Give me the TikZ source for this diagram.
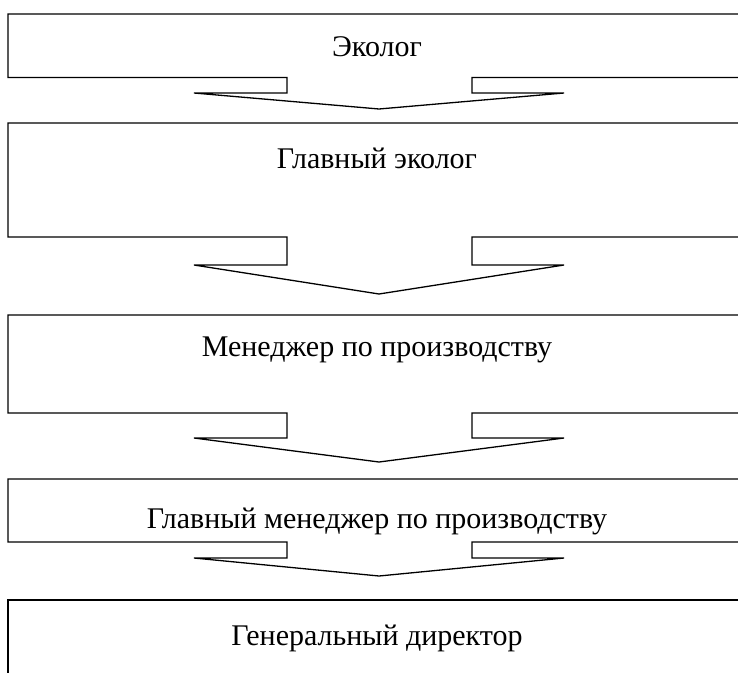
\documentclass[tikz,border=0pt]{standalone}
\usepackage{fontspec}
\setmainfont{Liberation Serif}
\begin{document}
\begin{tikzpicture}[x=1pt,y=-1pt,
  outline/.style={draw=black,line width=1.3pt,line join=miter},
  label/.style={font=\fontsize{30}{32}\selectfont,inner sep=0pt,anchor=center}]
\useasboundingbox (0,0) rectangle (738,672);
\clip (0,0) rectangle (738,672);
% generic shape: box with arrow out of its bottom
\newcommand{\arrowbox}[4]{% top, bottom, stem bottom, tip
  \draw[outline] (760,#2) -- (472,#2) -- (472,#3) -- (564,#3) -- (379,#4)
    -- (194,#3) -- (287,#3) -- (287,#2) -- (8,#2) -- (8,#1) -- (760,#1);}
\arrowbox{14}{77.5}{93}{109}
\arrowbox{123}{237}{265}{294}
\arrowbox{315}{413}{438}{462}
\arrowbox{479}{542}{558}{576}
\draw[outline] (8,690) -- (8,600) -- (760,600);
\node[label] (n1) at (377,47) {Эколог};
\node[label] (n2) at (377,158) {Главный эколог};
\node[label] (n3) at (377,350) {Менеджер по производству};
\node[label] (n4) at (377,521) {Главный менеджер по производству};
\node[label] (n5) at (377,638) {Генеральный директор};
\end{tikzpicture}
\end{document}
